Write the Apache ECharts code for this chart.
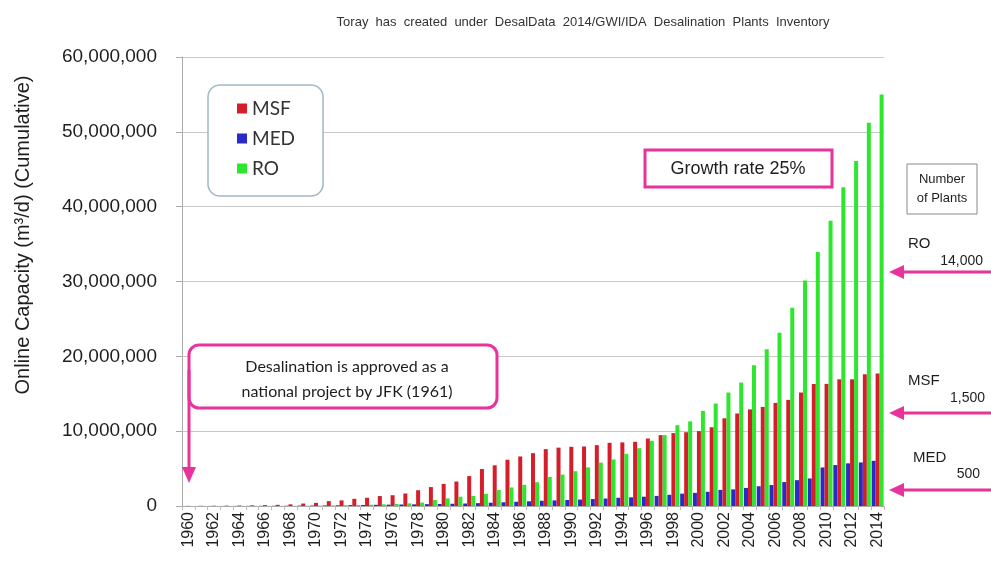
<!DOCTYPE html>
<html>
<head>
<meta charset="utf-8">
<title>Desalination online capacity</title>
<script src="https://cdn.jsdelivr.net/npm/echarts@6/dist/echarts.min.js"></script>
<style>
  html, body { margin: 0; padding: 0; background: #fff; }
  #chart { width: 991px; height: 563px; }
</style>
</head>
<body>
<div id="chart"></div>
<script>
// years on the category axis
const years = [
  '1960', '1961', '1962', '1963', '1964', '1965', '1966', '1967', '1968', '1969',
  '1970', '1971', '1972', '1973', '1974', '1975', '1976', '1977', '1978', '1979',
  '1980', '1981', '1982', '1983', '1984', '1985', '1986', '1987', '1988', '1989',
  '1990', '1991', '1992', '1993', '1994', '1995', '1996', '1997', '1998', '1999',
  '2000', '2001', '2002', '2003', '2004', '2005', '2006', '2007', '2008', '2009',
  '2010', '2011', '2012', '2013', '2014'
];

// cumulative online capacity, m3/d
const msf = [
  20000, 30000, 40000, 50000, 70000, 90000, 120000, 160000, 220000, 330000,
  420000, 650000, 750000, 960000, 1100000, 1330000, 1440000, 1670000, 2110000, 2530000,
  2950000, 3270000, 4000000, 4940000, 5440000, 6180000, 6620000, 7060000, 7600000, 7800000,
  7910000, 7950000, 8130000, 8440000, 8500000, 8580000, 9020000, 9470000, 9740000, 9860000,
  10000000, 10520000, 11720000, 12360000, 12910000, 13240000, 13780000, 14180000, 15160000, 16300000,
  16320000, 16930000, 16930000, 17600000, 17690000
];
const med = [
  5000, 5000, 10000, 10000, 15000, 20000, 25000, 30000, 40000, 50000,
  60000, 80000, 100000, 120000, 140000, 160000, 180000, 200000, 220000, 250000,
  270000, 300000, 330000, 380000, 440000, 500000, 570000, 630000, 700000, 750000,
  800000, 860000, 930000, 1000000, 1100000, 1160000, 1240000, 1350000, 1500000, 1650000,
  1750000, 1900000, 2150000, 2220000, 2420000, 2640000, 2800000, 3200000, 3450000, 3680000,
  5150000, 5470000, 5700000, 5820000, 6040000
];
const ro = [
  0, 0, 5000, 5000, 10000, 10000, 15000, 20000, 30000, 40000,
  50000, 70000, 100000, 130000, 170000, 220000, 280000, 350000, 450000, 800000,
  1020000, 1240000, 1350000, 1620000, 2150000, 2480000, 2830000, 3180000, 3880000, 4200000,
  4650000, 5160000, 5800000, 6220000, 6970000, 7720000, 8710000, 9470000, 10800000, 11310000,
  12710000, 13690000, 15160000, 16490000, 18800000, 20930000, 23160000, 26490000, 30130000, 33950000,
  38130000, 42600000, 46100000, 51200000, 55000000
];

const yMin = 0;
const yMax = 60000000;
const yStep = 10000000;

const pink = '#e8339c';
const ink = '#1e1e1e';
const sans = 'Liberation Sans, Arial';

// left-pointing pink arrow at the right edge
const arrowLeft = (y) => [
  { type: 'line', shape: { x1: 991, y1: y, x2: 900, y2: y }, style: { stroke: pink, lineWidth: 3 } },
  { type: 'polygon', shape: { points: [[889, y], [904, y - 7], [904, y + 7]] }, style: { fill: pink } }
];

const option = {
  animation: false,
  backgroundColor: '#fff',
  title: {
    text: 'Toray  has  created  under  DesalData  2014/GWI/IDA  Desalination  Plants  Inventory',
    left: 578,
    textAlign: 'center',
    top: 11,
    textStyle: { fontSize: 13, fontWeight: 'normal', color: '#333', fontFamily: sans }
  },
  legend: {
    data: ['MSF', 'MED', 'RO'],
    orient: 'vertical',
    left: 208,
    top: 85,
    padding: [14, 28, 18, 29],
    itemGap: 11,
    itemWidth: 10,
    itemHeight: 10,
    icon: 'rect',
    backgroundColor: '#fff',
    borderColor: '#9fb8c8',
    borderWidth: 1.5,
    borderRadius: 12,
    textStyle: { fontSize: 19, color: '#333', fontFamily: 'Lato, Liberation Sans' }
  },
  grid: { left: 182, right: 107, top: 57, bottom: 57 },
  xAxis: {
    type: 'category',
    data: years,
    axisLine: { lineStyle: { color: '#aaa' } },
    axisTick: { show: true, interval: 0, length: 4, lineStyle: { color: '#bbb' } },
    axisLabel: {
      interval: 1,
      rotate: 90,
      margin: 6,
      fontSize: 16,
      color: ink,
      fontFamily: sans
    }
  },
  yAxis: {
    type: 'value',
    min: yMin,
    max: yMax,
    interval: yStep,
    axisLine: { show: true, lineStyle: { color: '#aaa' } },
    axisTick: { show: true, length: 6, lineStyle: { color: '#aaa' } },
    splitLine: { lineStyle: { color: '#c8c8c8', width: 1 } },
    axisLabel: {
      margin: 25,
      fontSize: 19,
      color: ink,
      fontFamily: sans,
      formatter: (v) => v.toLocaleString('en-US')
    }
  },
  series: [
    { name: 'MED', type: 'bar', data: med, barWidth: 4, barGap: '0%', itemStyle: { color: '#2a2ac8' } },
    { name: 'MSF', type: 'bar', data: msf, barWidth: 4, barGap: '0%', itemStyle: { color: '#d41f2b' } },
    { name: 'RO', type: 'bar', data: ro, barWidth: 4, barGap: '0%', itemStyle: { color: '#2ee62e' } }
  ],
  graphic: [
    // y axis title
    {
      type: 'text', x: 23, y: 235, rotation: Math.PI / 2,
      style: {
        text: 'Online Capacity (m³/d) (Cumulative)', fontSize: 20, fill: ink,
        fontFamily: sans, align: 'center', verticalAlign: 'middle'
      }
    },
    // growth rate box
    { type: 'rect', shape: { x: 645, y: 150, width: 187, height: 37 }, style: { fill: '#fff', stroke: pink, lineWidth: 3 }, z: 10 },
    {
      type: 'text', x: 738, y: 169, z: 11,
      style: { text: 'Growth rate 25%', fontSize: 18, fill: ink, fontFamily: sans, align: 'center', verticalAlign: 'middle' }
    },
    // JFK note
    { type: 'rect', shape: { x: 189, y: 345, width: 308, height: 63, r: 10 }, style: { fill: '#fff', stroke: pink, lineWidth: 3 }, z: 10 },
    { type: 'line', shape: { x1: 189, y1: 370, x2: 189, y2: 470 }, style: { stroke: pink, lineWidth: 3 }, z: 10 },
    { type: 'polygon', shape: { points: [[189, 483], [182, 467], [196, 467]] }, style: { fill: pink }, z: 10 },
    {
      type: 'text', x: 347, y: 367, z: 11,
      style: { text: 'Desalination is approved as a', fontSize: 16, fill: ink, fontFamily: 'Lato, Liberation Sans', align: 'center', verticalAlign: 'middle' }
    },
    {
      type: 'text', x: 347, y: 392, z: 11,
      style: { text: 'national project by JFK (1961)', fontSize: 16, fill: ink, fontFamily: 'Lato, Liberation Sans', align: 'center', verticalAlign: 'middle' }
    },
    // number of plants
    { type: 'rect', shape: { x: 907, y: 164, width: 70, height: 50 }, style: { fill: '#fff', stroke: '#888', lineWidth: 1 } },
    {
      type: 'text', x: 942, y: 189,
      style: { text: 'Number\nof Plants', fontSize: 13, lineHeight: 19, fill: ink, fontFamily: sans, align: 'center', verticalAlign: 'middle' }
    },
    { type: 'text', x: 908, y: 244, style: { text: 'RO', fontSize: 15, fill: ink, fontFamily: sans, verticalAlign: 'middle' } },
    { type: 'text', x: 983, y: 261, style: { text: '14,000', fontSize: 14, fill: ink, fontFamily: sans, align: 'right', verticalAlign: 'middle' } },
    { type: 'text', x: 908, y: 381, style: { text: 'MSF', fontSize: 15, fill: ink, fontFamily: sans, verticalAlign: 'middle' } },
    { type: 'text', x: 985, y: 398, style: { text: '1,500', fontSize: 14, fill: ink, fontFamily: sans, align: 'right', verticalAlign: 'middle' } },
    { type: 'text', x: 913, y: 458, style: { text: 'MED', fontSize: 15, fill: ink, fontFamily: sans, verticalAlign: 'middle' } },
    { type: 'text', x: 980, y: 474, style: { text: '500', fontSize: 14, fill: ink, fontFamily: sans, align: 'right', verticalAlign: 'middle' } },
    ...arrowLeft(272),
    ...arrowLeft(413),
    ...arrowLeft(490)
  ]
};

const chart = echarts.init(document.getElementById('chart'));
chart.setOption(option);
</script>
</body>
</html>
